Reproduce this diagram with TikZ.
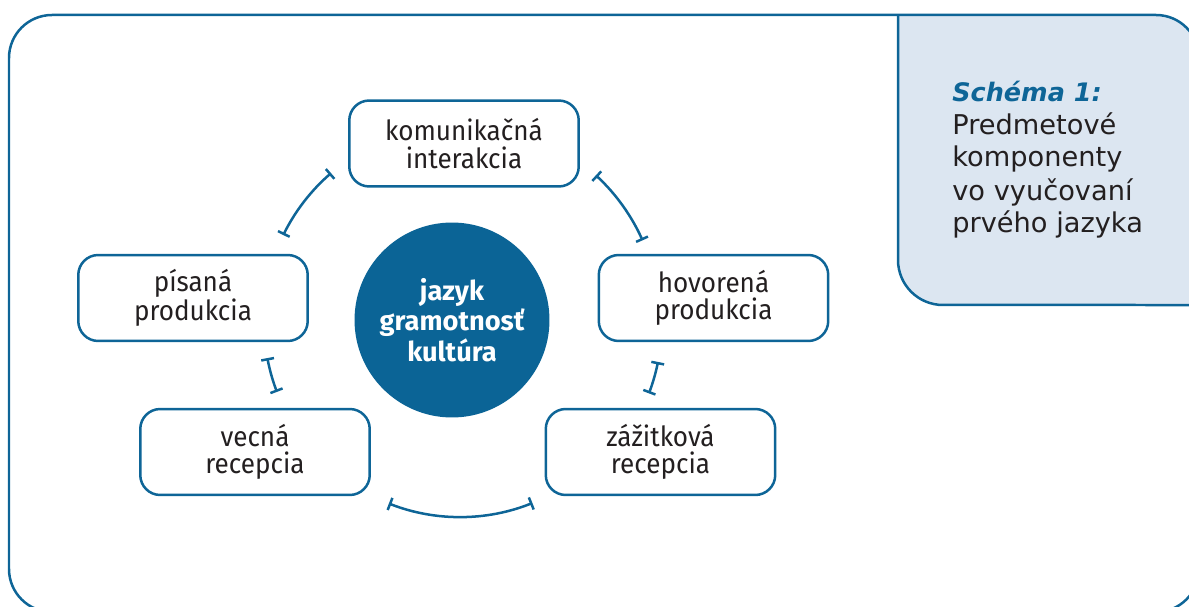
\documentclass[tikz,border=0pt]{standalone}
\usepackage{fontspec}
\setmainfont{Fira Sans}
\newfontfamily\boxfont{Fira Sans}[FakeStretch=0.94]
\newfontfamily\panelfont{DejaVu Sans}
\usetikzlibrary{arrows.meta,calc}
\definecolor{dblue}{HTML}{0E6597}
\definecolor{cblue}{HTML}{0B6496}
\definecolor{panelfill}{HTML}{DCE6F1}
\definecolor{dtext}{HTML}{231F20}
\tikzset{
  frameline/.style={draw=dblue,line width=0.05cm},
  compbox/.style={draw=dblue,line width=0.05cm,rounded corners=0.4cm,fill=white,
    minimum width=4.59cm,minimum height=1.72cm,align=center,text=dtext,
    font=\boxfont\fontsize{15.8}{15.5}\selectfont},
  core/.style={circle,fill=cblue,minimum size=3.9cm,text=white,align=center,
    font=\bfseries\fontsize{15.5}{17.2}\selectfont},
  conn/.style={draw=dblue,line width=0.05cm,{Bar[width=0.26cm]}-{Bar[width=0.26cm]}},
  ptitle/.style={anchor=base west,text=dblue,inner sep=0pt,
    font=\panelfont\bfseries\itshape\fontsize{14.5}{17}\selectfont},
  ptext/.style={anchor=base west,text=dtext,inner sep=0pt,
    font=\panelfont\fontsize{15.5}{17}\selectfont}
}
\begin{document}
\begin{tikzpicture}[x=0.02cm,y=0.02cm]
\useasboundingbox (0,0) rectangle (1189,606);
\clip (0,0) rectangle (1189,606);
% right panel
\fill[panelfill] (898,591) -- (1156,591) arc[start angle=90,end angle=0,radius=0.86cm]
  -- (1199,301) -- (943,301) arc[start angle=270,end angle=180,radius=0.9cm] -- cycle;
\draw[frameline] (898,591) -- (898,346) arc[start angle=180,end angle=270,radius=0.9cm] -- (1199,301);
% outer frame
\draw[frameline,rounded corners=0.86cm] (9,591) rectangle (1199,-6);
% panel text
\node[ptitle] (t0) at (952,504) {Schéma 1:};
\node[ptext] (t1) at (952,471) {Predmetové};
\node[ptext] (t2) at (952,439) {komponenty};
\node[ptext] (t3) at (952,406) {vo vyučovaní};
\node[ptext] (t4) at (952,374) {prvého jazyka};
% center
\node[core] (c) at (452,286) {jazyk\\gramotnosť\\kultúra};
% boxes
\node[compbox] (ki) at (464,462.5) {komunikačná\\interakcia};
\node[compbox] (pp) at (193,308) {písaná\\produkcia};
\node[compbox] (hp) at (713.5,308) {hovorená\\produkcia};
\node[compbox] (vr) at (255,154) {vecná\\recepcia};
\node[compbox] (zr) at (660.5,154) {zážitková\\recepcia};
% connectors on ring
\coordinate (ring) at (460,284);
\draw[conn] ($(ring)+(153.8:3.94cm)$) arc[start angle=153.8,end angle=130.9,radius=3.94cm];
\draw[conn] ($(ring)+(47.2:4.0cm)$) arc[start angle=47.2,end angle=24.1,radius=4.0cm];
\draw[conn] ($(ring)+(-11.4:4.04cm)$) arc[start angle=-11.4,end angle=-20.7,radius=4.04cm];
\draw[conn] ($(ring)+(190.6:3.92cm)$) arc[start angle=190.6,end angle=200.9,radius=3.92cm];
\draw[conn] ($(ring)+(248.6:3.9cm)$) arc[start angle=248.6,end angle=291.8,radius=3.9cm];
\end{tikzpicture}
\end{document}
